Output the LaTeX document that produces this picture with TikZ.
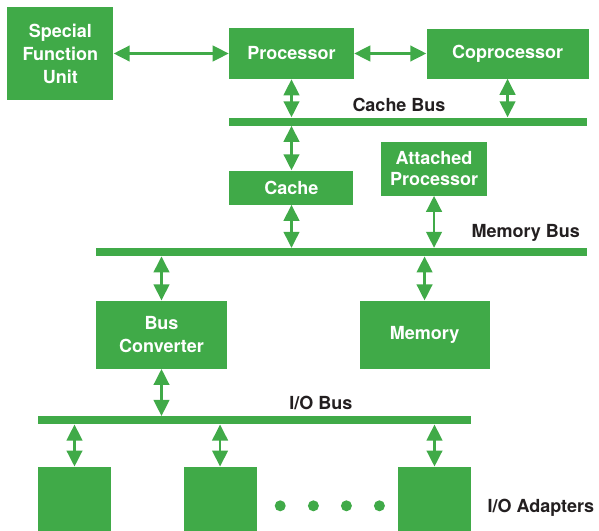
\documentclass[tikz,border=0pt]{standalone}
\usepackage{fontspec}
\setmainfont{TeX Gyre Heros}
\usetikzlibrary{positioning, arrows.meta}
\definecolor{busgreen}{RGB}{64,170,72}
\definecolor{labelgray}{RGB}{35,31,32}

\begin{document}
\begin{tikzpicture}[
    every node/.style={font=\bfseries\fontsize{12.8}{16.4}\selectfont},
    unit/.style={rectangle, fill=busgreen, text=white, align=center, inner sep=0pt},
    bus/.style={rectangle, fill=busgreen, minimum height=2mm, inner sep=0pt},
    buslabel/.style={text=labelgray, inner sep=0pt},
    dot/.style={circle, fill=busgreen, minimum size=2.75mm, inner sep=0pt},
    link/.style={draw=busgreen, line width=0.6mm, {Triangle[length=4mm, width=3.9mm]}-{Triangle[length=4mm, width=3.9mm]}}
]

\useasboundingbox (-72.875mm, 13.375mm) rectangle (76.875mm, -119.375mm);

% Processor row
\node[unit, minimum width=31.25mm, minimum height=12.75mm] (proc) {Processor};
\node[unit, left=28.75mm of proc, minimum width=26.5mm, minimum height=23.25mm] (sfu) {Special\\Function\\Unit};
\node[unit, right=18mm of proc, minimum width=40.5mm, minimum height=12.5mm] (coproc) {Coprocessor};

% Cache bus
\node[bus, below=9.5mm of proc.south west, anchor=north west, minimum width=89.5mm] (cache_bus) {};
\node[buslabel, above=1.4mm of cache_bus, xshift=-2.25mm] (cache_bus_label) {Cache Bus};

% Cache and attached processor
\node[unit, below=22.75mm of proc, minimum width=31mm, minimum height=8.5mm] (cache) {Cache};
\node[unit, right=6.75mm of cache, yshift=4.75mm, minimum width=26.5mm, minimum height=13.5mm, font=\bfseries\fontsize{12.8}{14.3}\selectfont] (attached) {Attached\\Processor};

% Memory bus
\node[bus, below=30.5mm of cache_bus.south east, anchor=north east, minimum width=122.75mm] (memory_bus) {};
\node[buslabel, above=1.6mm of memory_bus.north east, anchor=south east, xshift=-1.75mm] (memory_bus_label) {Memory Bus};

% Bus converter and memory
\node[unit, below=11mm of memory_bus.south west, anchor=north west, minimum width=32.75mm, minimum height=17mm] (bus_conv) {Bus\\Converter};
\node[unit, right=33mm of bus_conv, minimum width=32.5mm, minimum height=17mm] (memory) {Memory};

% I/O bus
\node[bus, below=11.75mm of bus_conv.south west, anchor=north west, xshift=-14.5mm, minimum width=108.25mm] (io_bus) {};
\node[buslabel, above=1.6mm of io_bus, xshift=16.6mm] (io_bus_label) {I/O Bus};

% I/O adapters
\node[unit, below=10.5mm of io_bus.south west, anchor=north west, minimum width=18.25mm, minimum height=17mm] (adapter1) {};
\node[unit, right=18mm of adapter1, minimum width=18.25mm, minimum height=17mm] (adapter2) {};
\node[unit, below=10.5mm of io_bus.south east, anchor=north east, minimum width=18.25mm, minimum height=17mm] (adapter3) {};
\node[buslabel, right=4mm of adapter3, yshift=-1.75mm] (adapters_label) {I/O Adapters};

\foreach \d [count=\i] in {4.4mm, 12.7mm, 20.95mm, 29.2mm}
    \node[dot, right=\d of adapter2, yshift=-1.25mm] (dot\i) {};

% Processor edges
\draw[link] (sfu) -- (proc);
\draw[link] (proc) -- (coproc);
\draw[link] (proc) -- (proc |- cache_bus.north);
\draw[link] (coproc) -- (coproc |- cache_bus.north);

% Cache bus and memory bus edges
\draw[link] (cache_bus.south -| cache) -- (cache);
\draw[link] (cache) -- (cache |- memory_bus.north);
\draw[link] (attached) -- (attached |- memory_bus.north);
\draw[link] (memory_bus.south -| bus_conv) -- (bus_conv);
\draw[link] (memory_bus.south -| memory) -- (memory);

% I/O bus edges
\draw[link] (bus_conv) -- (bus_conv |- io_bus.north);
\foreach \n in {adapter1, adapter2, adapter3}
    \draw[link] (io_bus.south -| \n) -- (\n);

\end{tikzpicture}
\end{document}
